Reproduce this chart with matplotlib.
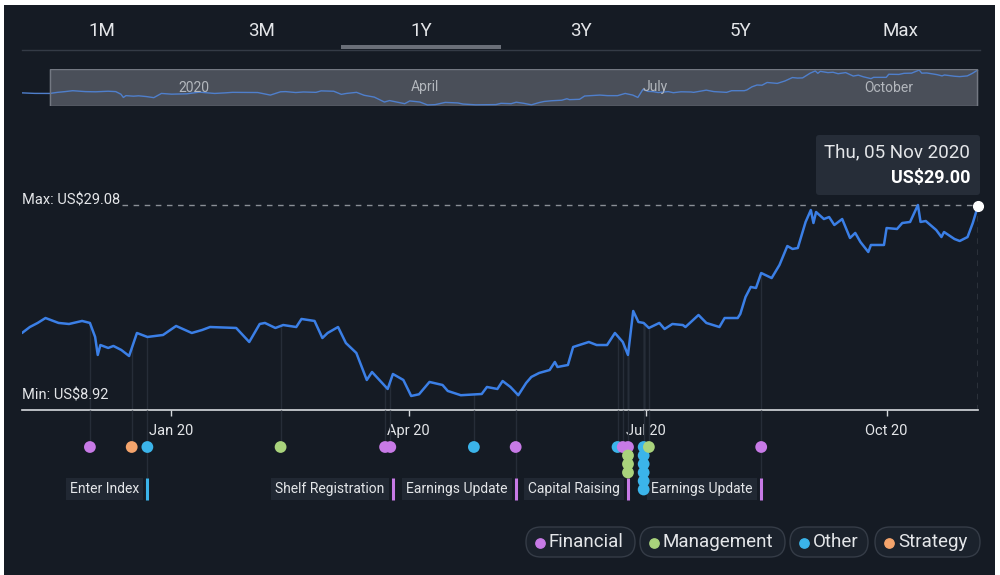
import numpy as np
import pandas as pd
import matplotlib.pyplot as plt
import matplotlib.dates as mdates
from matplotlib.patches import FancyBboxPatch, Rectangle

plt.rcParams['font.family'] = ['Roboto', 'DejaVu Sans']

# === Data ===
start_date = pd.Timestamp('2019-11-05')
day_offset = [-11, -6, 0, 3, 6, 9, 14, 18, 23, 26,
              28, 29, 30, 33, 35, 38, 41, 44, 48, 54,
              59, 65, 69, 72, 82, 87, 91, 93, 97, 100,
              105, 107, 112, 115, 117, 121, 124, 128, 132, 134,
              140, 142, 146, 149, 152, 156, 161, 163, 168, 176,
              178, 182, 184, 187, 190, 193, 195, 198, 202, 204,
              205, 209, 211, 217, 220, 224, 227, 230, 232, 234,
              236, 238, 240, 244, 246, 249, 253, 254, 259, 262,
              267, 269, 274, 275, 277, 279, 281, 283, 287, 290,
              293, 295, 297, 300, 302, 303, 304, 307, 309, 311,
              314, 317, 319, 321, 324, 325, 330, 331, 335, 337,
              340, 343, 344, 346, 350, 352, 353, 357, 359, 362,
              364, 366]
price = [15.90, 15.60, 15.57, 16.20, 16.63, 17.15, 16.63, 16.52, 16.84, 16.63,
         15.15, 13.25, 14.30, 13.99, 14.20, 13.78, 13.14, 15.57, 15.15, 15.36,
         16.31, 15.57, 15.89, 16.20, 16.10, 14.62, 16.52, 16.63, 16.10, 16.41,
         16.20, 17.05, 16.84, 15.04, 15.57, 16.20, 14.51, 13.46, 10.61, 11.45,
         9.66, 11.24, 10.61, 8.92, 9.10, 10.40, 10.08, 9.45, 9.00, 9.13,
         9.87, 9.66, 10.50, 9.87, 9.00, 10.29, 10.93, 11.35, 11.66, 12.51,
         11.98, 12.19, 14.09, 14.62, 14.30, 14.30, 15.57, 14.62, 13.25, 17.89,
         16.73, 16.63, 16.10, 16.63, 15.99, 16.52, 16.41, 16.20, 17.47, 16.63,
         16.20, 17.15, 17.15, 17.58, 19.37, 20.43, 20.32, 21.90, 21.37, 22.75,
         24.75, 24.44, 24.54, 27.29, 28.55, 27.18, 28.34, 27.60, 27.81, 26.97,
         27.60, 25.60, 26.13, 25.17, 24.12, 24.86, 24.86, 26.65, 26.55, 27.18,
         27.29, 29.08, 27.29, 27.39, 26.44, 25.70, 26.23, 25.49, 25.28, 25.70,
         27.18, 29.00]

ev_dates = ['2019-12-01', '2019-12-17', '2019-12-23', '2020-02-12', '2020-03-23',
            '2020-03-25', '2020-04-26', '2020-05-12', '2020-06-20', '2020-06-22',
            '2020-06-24', '2020-06-24', '2020-06-24', '2020-06-24', '2020-06-30',
            '2020-06-30', '2020-06-30', '2020-06-30', '2020-06-30', '2020-06-30',
            '2020-07-02', '2020-08-14']
ev_cats = ['Financial', 'Strategy', 'Other', 'Management', 'Financial',
           'Financial', 'Other', 'Financial', 'Other', 'Financial',
           'Financial', 'Management', 'Management', 'Management', 'Other',
           'Other', 'Other', 'Other', 'Other', 'Other',
           'Management', 'Financial']

label_dates = ['2019-12-23', '2020-03-26', '2020-05-12', '2020-06-24', '2020-08-14']
label_texts = ['Enter Index', 'Shelf Registration', 'Earnings Update', 'Capital Raising', 'Earnings Update']
label_cats = ['Other', 'Financial', 'Financial', 'Financial', 'Financial']

tabs = ['1M', '3M', '1Y', '3Y', '5Y', 'Max']
active_tab = '1Y'
nav_labels = ['2020', 'April', 'July', 'October']
nav_label_dates = ['2020-01-01', '2020-04-01', '2020-07-01', '2020-10-01']
categories = ['Financial', 'Management', 'Other', 'Strategy']
cat_colors = {'Financial': '#c77ae6', 'Management': '#a9d37c',
              'Other': '#3bb4ea', 'Strategy': '#f4a46c'}

# === Derived ===
dates = start_date + pd.to_timedelta(day_offset, unit='D')
end_date = dates[-1]
vis = np.array(day_offset) >= 0
p_vis = np.array(price)[vis]
p_max, p_min = p_vis.max(), p_vis.min()

BG = '#151b24'
LINE = '#3b7fe6'
TXT = '#e4e6e9'
W, H = 1000, 575


def box(l, t, r, b):
    return [l / W, 1 - b / H, (r - l) / W, (b - t) / H]


fig = plt.figure(figsize=(10, 5.75), dpi=100)
fig.patch.set_facecolor('white')

# overlay in pixel coords (background, tabs, tooltip, legend)
ov = fig.add_axes([0, 0, 1, 1])
ov.set_xlim(0, W)
ov.set_ylim(H, 0)
ov.axis('off')
ov.set_zorder(0)
ov.add_patch(Rectangle((4, 5), 991, 570, fc=BG, ec='none'))

tab_w = (980 - 22) / len(tabs)
for i, t in enumerate(tabs):
    cx = 22 + tab_w * (i + 0.5)
    ov.text(cx, 31, t, ha='center', va='center', fontsize=13.5, color=TXT)
    if t == active_tab:
        ov.add_patch(Rectangle((cx - 80, 45), 160, 4, fc='#6a6f78', ec='none'))
ov.plot([22, 980], [49.5, 49.5], color='#343b46', lw=1)

# tooltip
ov.add_patch(FancyBboxPatch((816, 135), 164, 60, boxstyle='round,pad=0,rounding_size=3',
                            fc='#262d38', ec='none'))
ov.text(970, 152, end_date.strftime('%a, %d %b %Y'), ha='right', va='center',
        fontsize=13.5, color=TXT)
ov.text(970, 178, f'US${price[-1]:.2f}', ha='right', va='center',
        fontsize=13, color='white', fontweight='bold')

# legend pills
pill_x = [526, 640, 790, 875]
pill_r = [635, 785, 868, 980]
for c, l, r in zip(categories, pill_x, pill_r):
    ov.add_patch(FancyBboxPatch((l, 527), r - l, 30, boxstyle='round,pad=0,rounding_size=15',
                                fc='#1b222c', ec='#353c47', lw=1))
    ov.scatter([l + 14], [542.5], s=45, color=cat_colors[c], zorder=3)
    ov.text(l + 23, 542, c, ha='left', va='center', fontsize=13.5, color=TXT)

# === Navigator ===
nav = fig.add_axes(box(22, 69, 980, 106))
nav.set_zorder(2)
nav.set_facecolor('#252b35')
nav.set_xlim(start_date - pd.Timedelta(days=11), end_date + pd.Timedelta(days=1))
nav.set_ylim(p_min - 0.6, p_max + 0.6)
nav.axvspan(start_date, end_date, color='#4a4f59', zorder=1)
nav.axvspan(start_date, end_date, fc='none', ec='#737882', lw=1, zorder=3)
nav.plot(dates, price, color='#4f7fcc', lw=1, zorder=2)
for d, t in zip(nav_label_dates, nav_labels):
    nav.text(pd.Timestamp(d), 0.5, t, ha='center', va='center',
             transform=nav.get_xaxis_transform(),
             fontsize=10, color='#b3b7bd', zorder=4)
nav.axis('off')

# === Main chart ===
ax = fig.add_axes(box(22, 135, 978, 410))
ax.set_zorder(2)
ax.set_facecolor('none')
ax.set_xlim(start_date, end_date)
ax.set_ylim(7.44, 36.47)

ev_ts = pd.to_datetime(ev_dates)
ev_day = (ev_ts - start_date).days
ev_price = np.interp(ev_day, day_offset, price)
ax.vlines(ev_ts, 7.44, ev_price, color='#262d38', lw=1, zorder=1)

ax.plot(dates, price, color=LINE, lw=1.8, zorder=3)

ax.hlines(p_max, start_date, end_date, color='#8a8f96', lw=1, linestyles=(0, (4, 4)), zorder=2)
ax.annotate(f'Max: US${p_max:.2f}', xy=(start_date, p_max), xytext=(0, 3),
            textcoords='offset points', ha='left', va='center', fontsize=10.5, color=TXT,
            bbox=dict(boxstyle='square,pad=0.15', fc=BG, ec='none'), zorder=4)
ax.annotate(f'Min: US${p_min:.2f}', xy=(start_date, p_min), xytext=(0, 0),
            textcoords='offset points', ha='left', va='center', fontsize=10.5, color=TXT,
            zorder=4)
ax.vlines(end_date, 7.44, price[-1], color='#8a8f96', lw=1, linestyles=(0, (4, 4)), zorder=2)
ax.plot([end_date], [price[-1]], 'o', color='white', ms=7, zorder=5, clip_on=False)

for s in ['top', 'left', 'right']:
    ax.spines[s].set_visible(False)
ax.spines['bottom'].set_color('#d6d9dd')
ax.spines['bottom'].set_linewidth(1.2)
ax.set_yticks([])
ax.xaxis.set_major_locator(mdates.MonthLocator(bymonth=[1, 4, 7, 10]))
ax.xaxis.set_major_formatter(mdates.DateFormatter('%b %y'))
ax.tick_params(axis='x', colors='#d6d9dd', labelcolor=TXT, labelsize=10.5,
               length=4, width=1, pad=6)

# === Events ===
ev = fig.add_axes(box(22, 410, 978, 510), sharex=ax)
ev.set_zorder(2)
ev.set_facecolor('none')
ev.set_ylim(100, 0)
ev.axis('off')

rows = {}
ev_row = []
for d in ev_dates:
    ev_row.append(rows.get(d, 0))
    rows[d] = rows.get(d, 0) + 1
ev_y = [37 + 8.5 * r for r in ev_row]

lab_ts = pd.to_datetime(label_dates)
for d in ev_ts.unique():
    bottom = 68 if d in lab_ts else 37
    ev.vlines(d, 0, bottom, color='#262d38', lw=1, zorder=1)
ev.scatter(ev_ts, ev_y, s=72, c=[cat_colors[c] for c in ev_cats], zorder=6,
           clip_on=False, linewidths=0)

for d, t, c in zip(lab_ts, label_texts, label_cats):
    ev.vlines(d, 68, 90, color=cat_colors[c], lw=2.2, zorder=3)
    ev.annotate(t, xy=(d, 79), xytext=(-6, 0), textcoords='offset points',
                ha='right', va='center', fontsize=10, color=TXT, zorder=4,
                bbox=dict(boxstyle='square,pad=0.3', fc='#212833', ec='none'))

fig.savefig('out.png', dpi=100, facecolor=fig.get_facecolor())
